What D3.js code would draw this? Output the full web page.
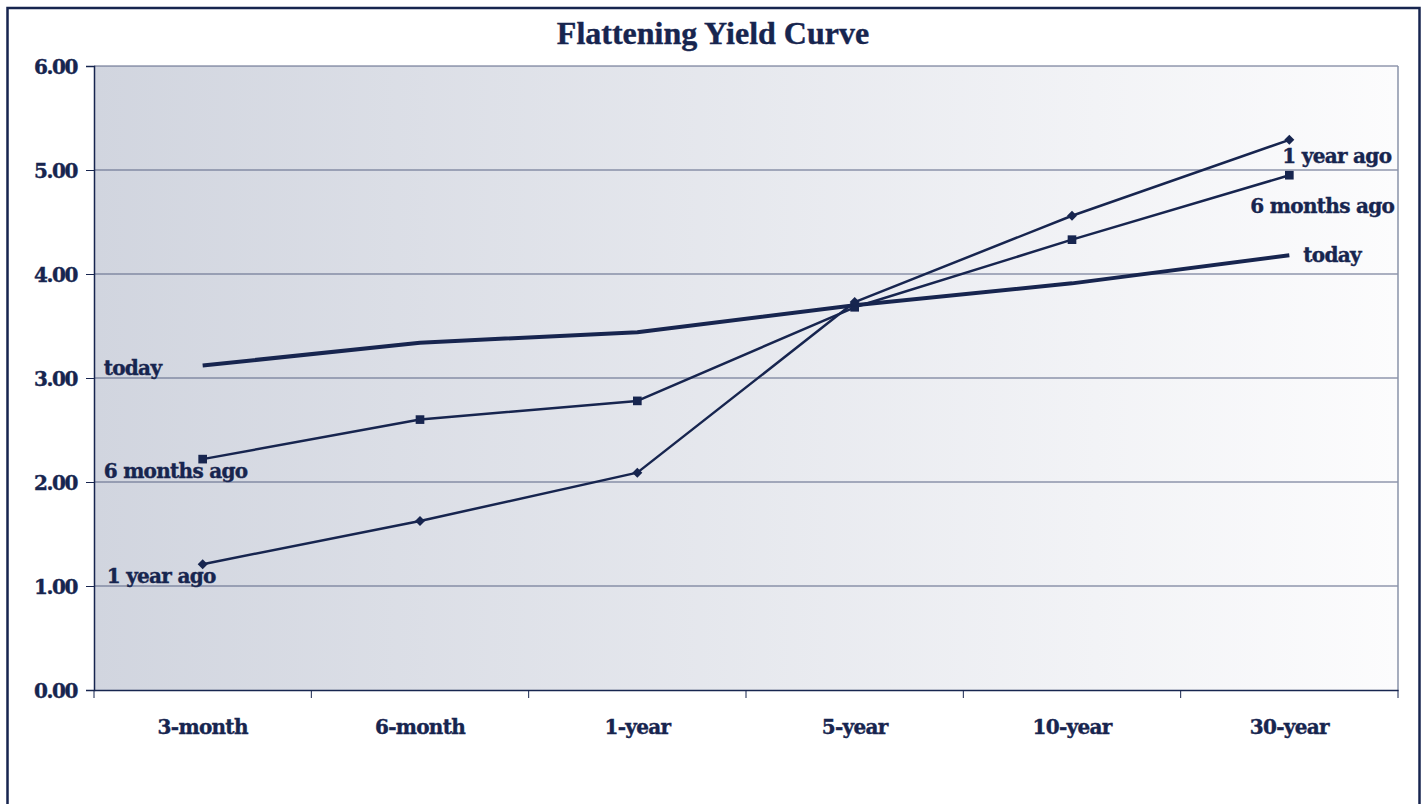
<!DOCTYPE html>
<html>
<head>
<meta charset="utf-8">
<script src="https://cdn.jsdelivr.net/npm/d3@7"></script>
<style>
  body { margin: 0; background: #fff; }
  text { font-family: "DejaVu Serif", serif; font-weight: bold; fill: #17254f; stroke: #17254f; stroke-width: 0.4px; }
</style>
</head>
<body>
<div id="chart"></div>
<script>
const categories = ['3-month', '6-month', '1-year', '5-year', '10-year', '30-year']
const today = [3.12, 3.34, 3.44, 3.70, 3.91, 4.18]
const sixMonthsAgo = [2.22, 2.60, 2.78, 3.68, 4.33, 4.95]
const oneYearAgo = [1.21, 1.625, 2.09, 3.73, 4.56, 5.29]
const yTicks = [0, 1, 2, 3, 4, 5, 6]

const navy = '#17254f'
const width = 1426
const height = 804
const margin = {top: 66, right: 28, bottom: 114, left: 94}
const innerW = width - margin.left - margin.right
const innerH = height - margin.top - margin.bottom

const svg = d3.select('#chart').append('svg')
    .attr('width', width)
    .attr('height', height)

// outer frame
svg.append('rect')
    .attr('x', 7.5).attr('y', 8)
    .attr('width', 1412).attr('height', 820)
    .attr('fill', 'none')
    .attr('stroke', navy)
    .attr('stroke-width', 2.5)

const defs = svg.append('defs')
const grad = defs.append('linearGradient').attr('id', 'bg')
grad.append('stop').attr('offset', '0%').attr('stop-color', '#d1d5df')
grad.append('stop').attr('offset', '100%').attr('stop-color', '#fcfcfd')

const x = d3.scaleBand().domain(categories).range([0, innerW])
const y = d3.scaleLinear().domain([0, 6]).range([innerH, 0])

const g = svg.append('g').attr('transform', `translate(${margin.left},${margin.top})`)

g.append('rect')
    .attr('width', innerW).attr('height', innerH)
    .attr('fill', 'url(#bg)')

// gridlines
g.append('g')
    .selectAll('line')
    .data(yTicks.filter((d) => d > 0))
    .enter()
    .append('line')
    .attr('x1', 0).attr('x2', innerW)
    .attr('y1', (d) => y(d)).attr('y2', (d) => y(d))
    .attr('stroke', '#5b6585')
    .attr('stroke-width', 1)

// right border of plot
g.append('line')
    .attr('x1', innerW).attr('x2', innerW)
    .attr('y1', 0).attr('y2', innerH)
    .attr('stroke', '#8a93a8')
    .attr('stroke-width', 1.5)

// y axis
const yAxis = g.append('g')
    .call(d3.axisLeft(y).tickValues(yTicks).tickSize(8).tickPadding(9).tickFormat(d3.format('.2f')))
yAxis.select('.domain').attr('stroke', navy).attr('stroke-width', 1.5)
yAxis.selectAll('.tick line').attr('stroke', navy)
yAxis.selectAll('text')
    .attr('fill', navy)
    .style('font-size', '20px')
    .style('letter-spacing', '-1.4px')
    .attr('dy', '0.35em')

// x axis
const xAxis = g.append('g')
    .attr('transform', `translate(0,${innerH})`)
    .call(d3.axisBottom(x).tickSize(0).tickPadding(30))
xAxis.select('.domain').attr('stroke', navy).attr('stroke-width', 1.5)
xAxis.selectAll('text')
    .attr('fill', navy)
    .style('font-size', '20px')
    .style('letter-spacing', '-0.7px')

// category boundary ticks
xAxis.selectAll('.cat-tick')
    .data(d3.range(categories.length + 1))
    .enter()
    .append('line')
    .attr('class', 'cat-tick')
    .attr('x1', (i) => i * x.bandwidth()).attr('x2', (i) => i * x.bandwidth())
    .attr('y1', 0).attr('y2', 8)
    .attr('stroke', navy)
    .attr('stroke-width', 1)

const cx = (c) => x(c) + x.bandwidth() / 2
const line = d3.line()
    .x((d, i) => cx(categories[i]))
    .y((d) => y(d))

const series = [
    {name: 'today', values: today, width: 4, marker: null},
    {name: '6 months ago', values: sixMonthsAgo, width: 2.5, marker: 'square'},
    {name: '1 year ago', values: oneYearAgo, width: 2.5, marker: 'diamond'}
]

series.forEach((s) => {
    g.append('path')
        .datum(s.values)
        .attr('d', line)
        .attr('fill', 'none')
        .attr('stroke', navy)
        .attr('stroke-width', s.width)
        .attr('stroke-linejoin', 'round')
    if (s.marker) {
        const rot = s.marker === 'diamond' ? 45 : 0
        g.append('g')
            .selectAll('path')
            .data(s.values)
            .enter()
            .append('path')
            .attr('d', d3.symbol().type(d3.symbolSquare).size(s.marker === 'square' ? 75 : 50))
            .attr('transform', (d, i) => `translate(${cx(categories[i])},${y(d)}) rotate(${rot})`)
            .attr('fill', navy)
    }
})

// series labels
const labels = [
    {text: 'today', cat: 0, val: today[0], dx: -99, dy: 9},
    {text: '6 months ago', cat: 0, val: sixMonthsAgo[0], dx: -99, dy: 19},
    {text: '1 year ago', cat: 0, val: oneYearAgo[0], dx: -96, dy: 19},
    {text: '1 year ago', cat: 5, val: oneYearAgo[5], dx: -7, dy: 23},
    {text: '6 months ago', cat: 5, val: sixMonthsAgo[5], dx: -39, dy: 38},
    {text: 'today', cat: 5, val: today[5], dx: 14, dy: 7}
]
g.selectAll('.series-label')
    .data(labels)
    .enter()
    .append('text')
    .attr('class', 'series-label')
    .attr('x', (d) => cx(categories[d.cat]) + d.dx)
    .attr('y', (d) => y(d.val) + d.dy)
    .style('font-size', '20px')
    .style('letter-spacing', '-0.7px')
    .text((d) => d.text)

// title
svg.append('text')
    .attr('x', 713)
    .attr('y', 44)
    .attr('text-anchor', 'middle')
    .style('font-family', '"Liberation Serif", serif')
    .style('font-size', '32px')
    .text('Flattening Yield Curve')
</script>
</body>
</html>
